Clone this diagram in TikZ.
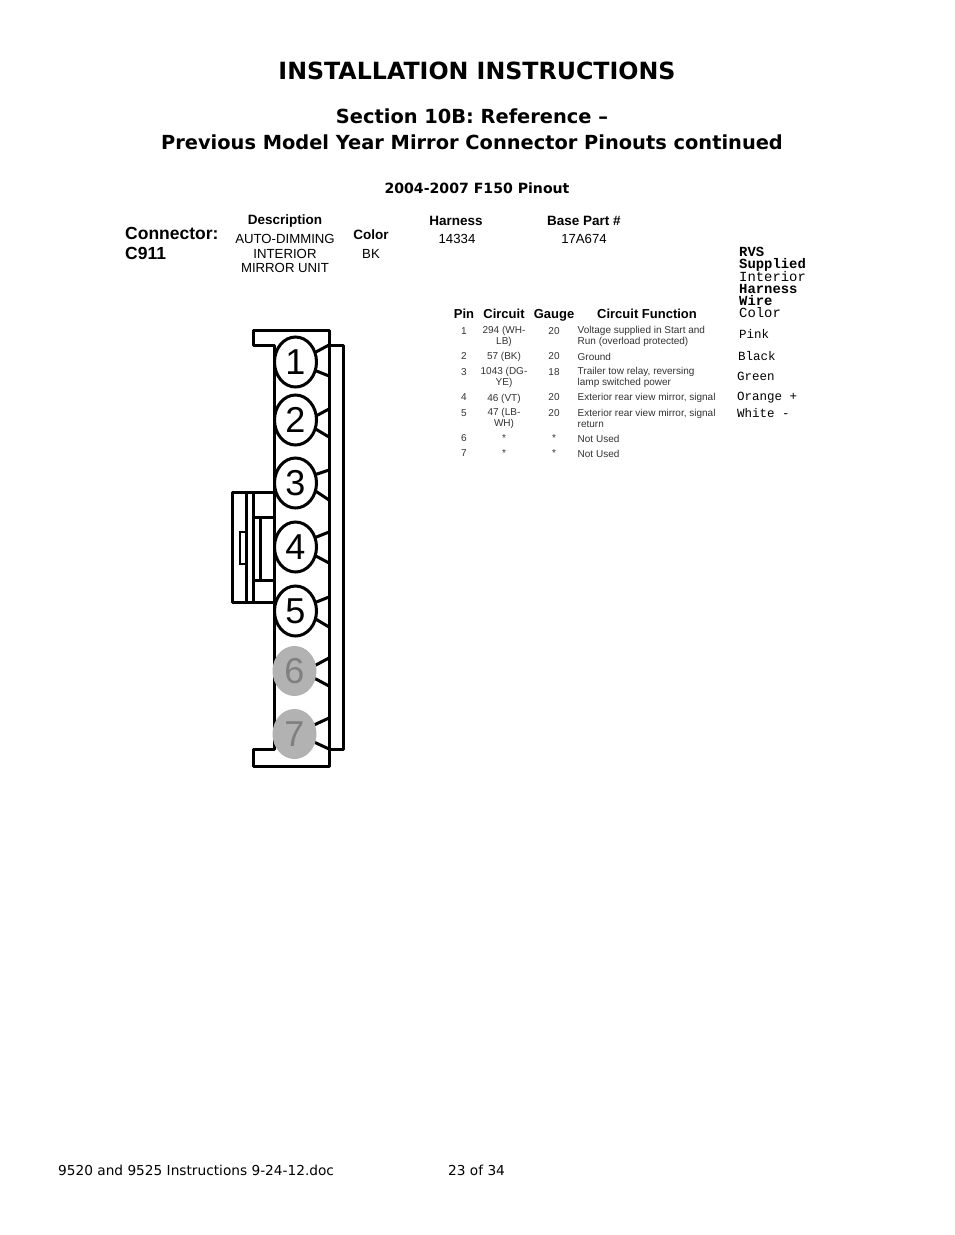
\documentclass[tikz,border=0pt]{standalone}
\usepackage{fontspec}
\setmainfont{DejaVu Sans}
\newfontfamily\tblfont{Liberation Sans}
\newfontfamily\wirefont{Liberation Mono}
\usetikzlibrary{positioning}
\usetikzlibrary{shapes.geometric}
\tikzset{
  heading/.style={inner sep=0pt,font=\bfseries\fontsize{#1}{#1}\selectfont},
  capt/.style={inner sep=0pt,font=\tblfont\fontsize{13.2}{14.5}\selectfont,align=center},
  capthead/.style={inner sep=0pt,font=\tblfont\bfseries\fontsize{13.5}{15}\selectfont},
  cellhead/.style={inner sep=0pt,anchor=base,font=\tblfont\bfseries\fontsize{13}{14}\selectfont},
  cell/.style={inner sep=0pt,font=\tblfont\fontsize{10}{11}\selectfont,align=center,text=black!80},
  cellfn/.style={cell,anchor=west,align=left},
  wire/.style={inner sep=0pt,anchor=west,font=\wirefont\fontsize{12.5}{13}\selectfont},
  wirehead/.style={wire,font=\wirefont\fontsize{13.9}{13}\selectfont},
  wirebold/.style={wire,font=\wirefont\bfseries\fontsize{13.9}{13}\selectfont},
  pin/.style={ellipse,draw,line width=3pt,fill=white,minimum width=42pt,minimum height=50pt,inner sep=0pt,font=\tblfont\fontsize{36}{36}\selectfont},
  pinoff/.style={pin,draw=none,fill=black!30,text=black!50,minimum width=44pt,minimum height=50pt},
  body/.style={line width=3pt,line join=round},
  foot/.style={inner sep=0pt,anchor=west,font=\fontsize{13.7}{16}\selectfont}
}
\begin{document}
\begin{tikzpicture}[x=1pt,y=-1pt]
  \useasboundingbox (0,0) rectangle (954,1235);
  \fill[white] (0,0) rectangle (954,1235);
  % page titles
  \node[heading=23.7] (title) at (477,71) {INSTALLATION INSTRUCTIONS};
  \node[heading=19.4] (sect) at (472,116) {Section 10B: Reference --};
  \node[heading=19.4] (prev) at (472,142) {Previous Model Year Mirror Connector Pinouts continued};
  \node[heading=14.1] (sub) at (477,188) {2004-2007 F150 Pinout};
  % connector header
  \node[inner sep=0pt,anchor=west,font=\tblfont\bfseries\fontsize{17.5}{20}\selectfont] (conn) at (125,233) {Connector:};
  \node[inner sep=0pt,anchor=west,font=\tblfont\bfseries\fontsize{17.5}{20}\selectfont] (cnum) at (125,253) {C911};
  \node[capthead] (desc) at (285,221.5) {Description};
  \node[capt,anchor=north] (unit) at (285,234.5) {AUTO-DIMMING\\INTERIOR\\MIRROR UNIT};
  \node[capthead] (colr) at (371,235) {Color};
  \node[capt] (bk) at (371,254) {BK};
  \node[capthead] (harn) at (456,221) {Harness};
  \node[capt] (hnum) at (457,239) {14334};
  \node[capthead] (base) at (584,221) {Base Part \#};
  \node[capt] (bnum) at (584,239) {17A674};
  % wire colours
  \node[wirebold] (w1) at (739,252) {RVS};
  \node[wirebold] (w2) at (739,264.5) {Supplied};
  \node[wirehead] (w3) at (739,277) {Interior};
  \node[wirebold] (w4) at (739,289) {Harness};
  \node[wirebold] (w5) at (739,301) {Wire};
  \node[wirehead] (w6) at (739,313) {Color};
  \node[wire] (pink) at (739,334) {Pink};
  \node[wire] (blk) at (738,356) {Black};
  \node[wire] (grn) at (737,376) {Green};
  \node[wire] (org) at (737,397.5) {Orange +};
  \node[wire] (wht) at (737,413) {White -};
  % table
  \node[cellhead] (hpin) at (464,318) {Pin};
  \node[cellhead] (hcir) at (504,318) {Circuit};
  \node[cellhead] (hgau) at (554,318) {Gauge};
  \node[cellhead] (hfun) at (647,318) {Circuit Function};
  \foreach \pinnum/\ynum/\ypos/\circuit/\gauge in {1/331/336.5/{294 (WH-\\LB)}/20, 2/356.5/357/57 (BK)/20, 3/372/377.5/{1043 (DG-\\YE)}/18, 4/397.5/398.5/46 (VT)/20, 5/413/418.5/{47 (LB-\\WH)}/20, 6/438.5/438.5/*/*, 7/453.5/453.5/*/*}{
    \node[cell] (p\pinnum) at (464,\ynum) {\pinnum};
    \node[cell] (c\pinnum) at (504,\ypos) {\circuit};
    \node[cell] (g\pinnum) at (554,\ynum) {\gauge};
  }
  \node[cellfn] (f1) at (577.5,336.5) {Voltage supplied in Start and\\Run (overload protected)};
  \node[cellfn] (f2) at (577.5,356.5) {Ground};
  \node[cellfn] (f3) at (577.5,377.5) {Trailer tow relay, reversing\\lamp switched power};
  \node[cellfn] (f4) at (577.5,398) {Exterior rear view mirror, signal};
  \node[cellfn] (f5) at (577.5,418.5) {Exterior rear view mirror, signal\\return};
  \node[cellfn] (f6) at (577.5,438.5) {Not Used};
  \node[cellfn] (f7) at (577.5,453.5) {Not Used};
  % connector body
  \draw[body] (274,345) -- (253,345) -- (253,330) -- (329,330) -- (329,766) -- (253,766) -- (253,749) -- (274,749) -- cycle;
  \draw[body] (329,345) -- (343,345) -- (343,749) -- (329,749);
  % latch
  \draw[body] (274,492) -- (232,492) -- (232,602) -- (274,602);
  \draw[body] (246,492) -- (246,602);
  \draw[body] (253,492) -- (253,602);
  \draw[body] (253,517) -- (274,517);
  \draw[body] (253,580) -- (274,580);
  \draw[body] (260.5,517) -- (260.5,580);
  \draw[line width=2pt] (246,532) -- (239.5,532) -- (239.5,564) -- (246,564);
  % pins with their tines
  \foreach \ya/\yb/\yc/\yd in {353/345/370/376, 417/409/428/437, 475/470/490/500, 538/532/555/563, 603/597/618/627, 666/658/678/686, 725/718/742/749}{
    \draw[body] (314,\ya) -- (329,\yb);
    \draw[body] (314,\yc) -- (329,\yd);
  }
  \foreach \pinnum/\ypos in {1/362,2/420,3/483,4/547,5/611}
    \node[pin] (pin\pinnum) at (295.5,\ypos) {\pinnum};
  \foreach \pinnum/\ypos in {6/671,7/734}
    \node[pinoff] (pin\pinnum) at (294.5,\ypos) {\pinnum};
  % footer
  \node[foot] (fl) at (58,1170) {9520 and 9525 Instructions 9-24-12.doc};
  \node[foot] (fp) at (448,1170) {23 of 34};
\end{tikzpicture}
\end{document}
